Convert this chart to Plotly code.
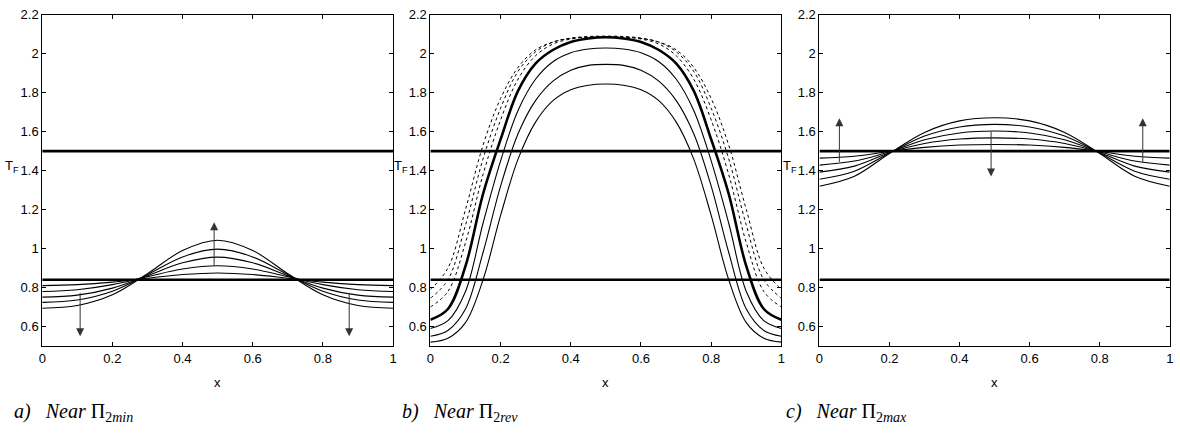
import plotly.graph_objects as go

# ---------------- data ----------------
X11 = [0, 0.1, 0.2, 0.3, 0.4, 0.5, 0.6, 0.7, 0.8, 0.9, 1.0]
X21 = [0, 0.05, 0.1, 0.15, 0.2, 0.25, 0.3, 0.35, 0.4, 0.45, 0.5,
       0.55, 0.6, 0.65, 0.7, 0.75, 0.8, 0.85, 0.9, 0.95, 1.0]

# steady states (thick horizontal lines)
upper_state = [1.5] * 11
lower_state = [0.84] * 11

# panel a: near Pi_2min
a_curves = [
    [0.694, 0.708, 0.763, 0.871, 0.990, 1.043, 0.990, 0.871, 0.763, 0.708, 0.694],
    [0.724, 0.736, 0.781, 0.866, 0.957, 0.997, 0.957, 0.866, 0.781, 0.736, 0.724],
    [0.751, 0.761, 0.797, 0.861, 0.927, 0.956, 0.927, 0.861, 0.797, 0.761, 0.751],
    [0.780, 0.789, 0.815, 0.856, 0.895, 0.912, 0.895, 0.856, 0.815, 0.789, 0.780],
    [0.810, 0.815, 0.828, 0.848, 0.867, 0.875, 0.867, 0.848, 0.828, 0.815, 0.810],
]

# panel b: near Pi_2rev
b_thick = [0.635, 0.69, 0.91, 1.28, 1.56, 1.81, 1.95, 2.02, 2.06, 2.078, 2.084,
           2.078, 2.06, 2.02, 1.95, 1.81, 1.56, 1.28, 0.91, 0.69, 0.635]
b_thin = [
    [0.59, 0.63, 0.78, 1.13, 1.45, 1.71, 1.87, 1.96, 2.005, 2.024, 2.029,
     2.024, 2.005, 1.96, 1.87, 1.71, 1.45, 1.13, 0.78, 0.63, 0.59],
    [0.55, 0.58, 0.69, 0.98, 1.32, 1.59, 1.76, 1.86, 1.915, 1.94, 1.945,
     1.94, 1.915, 1.86, 1.76, 1.59, 1.32, 0.98, 0.69, 0.58, 0.55],
    [0.52, 0.54, 0.62, 0.84, 1.17, 1.46, 1.65, 1.76, 1.815, 1.838, 1.844,
     1.838, 1.815, 1.76, 1.65, 1.46, 1.17, 0.84, 0.62, 0.54, 0.52],
]
b_dashed = [
    [0.70, 0.78, 1.03, 1.38, 1.66, 1.87, 1.99, 2.05, 2.075, 2.085, 2.088,
     2.085, 2.075, 2.05, 1.99, 1.87, 1.66, 1.38, 1.03, 0.78, 0.70],
    [0.745, 0.84, 1.12, 1.46, 1.72, 1.91, 2.01, 2.06, 2.08, 2.088, 2.09,
     2.088, 2.08, 2.06, 2.01, 1.91, 1.72, 1.46, 1.12, 0.84, 0.745],
    [0.79, 0.90, 1.20, 1.53, 1.77, 1.93, 2.02, 2.06, 2.078, 2.085, 2.087,
     2.085, 2.078, 2.06, 2.02, 1.93, 1.77, 1.53, 1.20, 0.90, 0.79],
]

# panel c: near Pi_2max
c_curves = [
    [1.320, 1.371, 1.488, 1.596, 1.655, 1.671, 1.655, 1.596, 1.488, 1.371, 1.320],
    [1.356, 1.397, 1.490, 1.577, 1.624, 1.637, 1.624, 1.577, 1.490, 1.397, 1.356],
    [1.392, 1.423, 1.493, 1.558, 1.593, 1.603, 1.593, 1.558, 1.493, 1.423, 1.392],
    [1.428, 1.449, 1.495, 1.539, 1.562, 1.568, 1.562, 1.539, 1.495, 1.449, 1.428],
    [1.464, 1.474, 1.498, 1.519, 1.531, 1.534, 1.531, 1.519, 1.498, 1.474, 1.464],
]

# arrows: (x, y_tail, y_head)
a_arrows = [(0.49, 0.905, 1.135), (0.108, 0.78, 0.55), (0.875, 0.78, 0.55)]
c_arrows = [(0.057, 1.437, 1.668), (0.923, 1.437, 1.668), (0.49, 1.608, 1.37)]

x_ticks = [0, 0.2, 0.4, 0.6, 0.8, 1]
x_ticklabels = ["0", "0.2", "0.4", "0.6", "0.8", "1"]
y_ticks = [0.6, 0.8, 1.0, 1.2, 1.4, 1.6, 1.8, 2.0, 2.2]
y_ticklabels = ["0.6", "0.8", "1", "1.2", "1.4", "1.6", "1.8", "2", "2.2"]

captions = [
    "<i>a)&nbsp;&nbsp; Near</i> Π<sub>2<i>min</i></sub>",
    "<i>b)&nbsp;&nbsp; Near</i> Π<sub>2<i>rev</i></sub>",
    "<i>c)&nbsp;&nbsp; Near</i> Π<sub>2<i>max</i></sub>",
]

# ---------------- figure ----------------
W, H = 1180, 433
fig = go.Figure()

THIN = dict(color="black", width=1.1, shape="spline")
THICK = dict(color="black", width=2.6, shape="spline")

def add(x, y, ax, line):
    xa = "x" if ax == 1 else f"x{ax}"
    ya = "y" if ax == 1 else f"y{ax}"
    fig.add_trace(go.Scatter(x=x, y=y, mode="lines", line=line,
                             xaxis=xa, yaxis=ya, showlegend=False,
                             hoverinfo="skip"))

# panel a
for c in a_curves:
    add(X11, c, 1, THIN)
add(X11, upper_state, 1, THICK)
add(X11, lower_state, 1, THICK)

# panel b
for c in b_thin:
    add(X21, c, 2, THIN)
for c in b_dashed:
    add(X21, c, 2, dict(color="black", width=1, dash="3px,3px", shape="spline"))
add(X21, b_thick, 2, THICK)
add(X11, upper_state, 2, THICK)
add(X11, lower_state, 2, THICK)

# panel c
for c in c_curves:
    add(X11, c, 3, THIN)
add(X11, upper_state, 3, THICK)
add(X11, lower_state, 3, THICK)

# axes geometry (pixels)
panels_px = [(38.5, 391.7), (429.3, 782.7), (821.0, 1173.7)]
top_px, bot_px = 7.8, 344.6

axis_font = dict(family="Liberation Sans, Arial, sans-serif", size=13, color="black")
common = dict(showgrid=False, zeroline=False, showline=True, linecolor="black",
              linewidth=1, mirror="ticks", ticks="inside", ticklen=4,
              tickcolor="black", tickwidth=1, tickfont=axis_font)

layout = dict(width=W, height=H, margin=dict(l=0, r=0, t=0, b=0),
              paper_bgcolor="white", plot_bgcolor="white", showlegend=False)
for i, (l, r) in enumerate(panels_px, start=1):
    sx = "" if i == 1 else str(i)
    layout[f"xaxis{sx}"] = dict(domain=[l / W, r / W], range=[0, 1],
                                tickvals=x_ticks, ticktext=x_ticklabels,
                                anchor=f"y{sx}", **common)
    layout[f"yaxis{sx}"] = dict(domain=[1 - bot_px / H, 1 - top_px / H],
                                range=[0.5, 2.2], tickvals=y_ticks,
                                ticktext=y_ticklabels, anchor=f"x{sx}", **common)
fig.update_layout(**layout)

annotations = []
for i, (l, r) in enumerate(panels_px, start=1):
    # x label
    annotations.append(dict(text="x", x=(l + r) / 2 / W, y=1 - 382 / H,
                            xref="paper", yref="paper", showarrow=False,
                            font=axis_font, xanchor="center", yanchor="middle"))
    # y label
    annotations.append(dict(text="T<sub>F</sub>", x=(l - 21) / W, y=1 - 162 / H,
                            xref="paper", yref="paper", showarrow=False,
                            font=axis_font, xanchor="right", yanchor="middle"))
    # caption
    cap_x = [8, 399, 785][i - 1]
    annotations.append(dict(text=captions[i - 1], x=cap_x / W, y=1 - 412 / H,
                            xref="paper", yref="paper", showarrow=False,
                            font=dict(family="Liberation Serif, Times New Roman, serif",
                                      size=20, color="black"),
                            xanchor="left", yanchor="middle"))

for ax_i, arrows in ((1, a_arrows), (3, c_arrows)):
    sx = "" if ax_i == 1 else str(ax_i)
    for (xx, yt, yh) in arrows:
        annotations.append(dict(x=xx, y=yh, ax=xx, ay=yt, xref=f"x{sx}", yref=f"y{sx}",
                                axref=f"x{sx}", ayref=f"y{sx}", text="",
                                showarrow=True, arrowhead=2, arrowsize=1.6,
                                arrowwidth=1, arrowcolor="#333"))

fig.update_layout(annotations=annotations)
fig.write_html("out.html")
